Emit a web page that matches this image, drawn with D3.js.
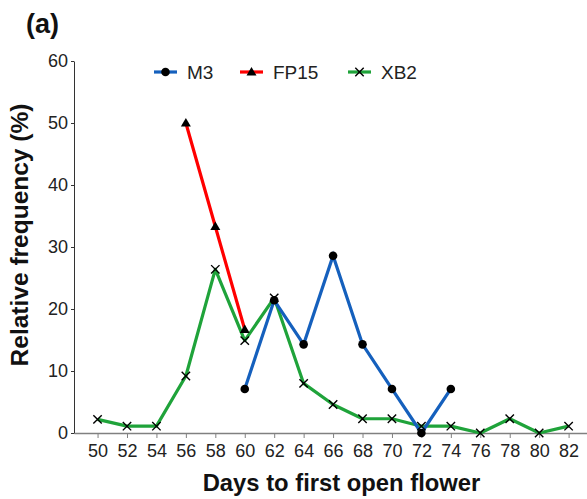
<!DOCTYPE html>
<html><head><meta charset="utf-8">
<script src="https://cdn.jsdelivr.net/npm/d3@7"></script>
<style>body{margin:0;background:#fff;} text{font-family:"Liberation Sans",Arial,sans-serif;}</style>
</head><body>
<svg id="c" width="587" height="499"></svg>
<script>
const xTicks = [50,52,54,56,58,60,62,64,66,68,70,72,74,76,78,80,82];
const yTicks = [0,10,20,30,40,50,60];
const m3Days = [60,62,64,66,68,70,72,74];
const m3Vals = [7.1,21.4,14.3,28.6,14.3,7.1,0,7.1];
const fpDays = [56,58,60];
const fpVals = [50,33.3,16.7];
const xbDays = [50,52,54,56,58,60,62,64,66,68,70,72,74,76,78,80,82];
const xbVals = [2.2,1.1,1.1,9.2,26.4,14.9,21.8,8.0,4.6,2.3,2.3,1.1,1.1,0,2.3,0,1.1];
const seriesNames = ["M3","FP15","XB2"];
const colors = {M3:"#1560bd", FP15:"#ff0000", XB2:"#1fa33a"};

const svg = d3.select("#c");
const x = d3.scaleLinear().domain([48.4,83.25]).range([74,587]);
const y = d3.scaleLinear().domain([0,60]).range([433,61]);

// x axis
const gx = svg.append("g").attr("transform","translate(0,433)");
gx.call(d3.axisBottom(x).tickValues(xTicks).tickSize(5).tickSizeOuter(0).tickPadding(6));
gx.select(".domain").attr("stroke","#808080").attr("stroke-width",1.5);
gx.selectAll(".tick line").attr("stroke","#808080");
gx.selectAll(".tick text").attr("font-size",18).attr("fill","#222").attr("font-family","Liberation Sans, Arial, sans-serif");

// y axis
const gy = svg.append("g").attr("transform","translate(74,0)");
gy.call(d3.axisLeft(y).tickValues(yTicks).tickSize(3).tickSizeOuter(0).tickPadding(3));
gy.select(".domain").attr("stroke","#333").attr("stroke-width",1);
gy.selectAll(".tick line").attr("stroke","#333");
gy.selectAll(".tick text").attr("font-size",18).attr("fill","#222").attr("font-family","Liberation Sans, Arial, sans-serif");

const line = d3.line().x(d=>x(d[0])).y(d=>y(d[1]));
const xb = xbDays.map((d,i)=>[d,xbVals[i]]);
const fp = fpDays.map((d,i)=>[d,fpVals[i]]);
const m3 = m3Days.map((d,i)=>[d,m3Vals[i]]);

svg.append("path").datum(xb).attr("d",line).attr("fill","none").attr("stroke",colors.XB2).attr("stroke-width",3.2).attr("stroke-linejoin","round");
svg.append("path").datum(fp).attr("d",line).attr("fill","none").attr("stroke",colors.FP15).attr("stroke-width",3.2);
svg.append("path").datum(m3).attr("d",line).attr("fill","none").attr("stroke",colors.M3).attr("stroke-width",3.2);

function cross(g,cx,cy,s){
  g.append("path").attr("d",`M${cx-s},${cy-s}L${cx+s},${cy+s}M${cx-s},${cy+s}L${cx+s},${cy-s}`).attr("stroke","#000").attr("stroke-width",1.4);
}
function tri(g,cx,cy,s){
  g.append("path").attr("d",`M${cx},${cy-s}L${cx+s},${cy+s*0.7}L${cx-s},${cy+s*0.7}Z`).attr("fill","#000");
}
const mk = svg.append("g");
xb.forEach(d=>cross(mk,x(d[0]),y(d[1]),4.2));
fp.forEach(d=>tri(mk,x(d[0]),y(d[1]),5));
m3.forEach(d=>mk.append("circle").attr("cx",x(d[0])).attr("cy",y(d[1])).attr("r",4.3).attr("fill","#000"));

// legend
const lg = svg.append("g");
const legX = [154,240,348];
seriesNames.forEach((n,i)=>{
  const lx = legX[i], ly = 72;
  lg.append("line").attr("x1",lx).attr("x2",lx+23).attr("y1",ly).attr("y2",ly).attr("stroke",colors[n]).attr("stroke-width",3.2);
  const cx = lx+11.5;
  if(n==="M3") lg.append("circle").attr("cx",cx).attr("cy",ly).attr("r",4.3).attr("fill","#000");
  if(n==="FP15") tri(lg,cx,ly,5);
  if(n==="XB2") cross(lg,cx,ly,4.2);
  lg.append("text").attr("x",lx+33).attr("y",ly+7).attr("font-size",19).attr("fill","#222").text(n);
});

// titles
svg.append("text").attr("x",26).attr("y",33).attr("font-size",27).attr("font-weight","bold").attr("fill","#111").text("(a)");
svg.append("text").attr("transform","translate(28,235) rotate(-90)").attr("text-anchor","middle").attr("font-size",24.5).attr("font-weight","bold").attr("fill","#111").text("Relative frequency (%)");
svg.append("text").attr("x",341.5).attr("y",491).attr("text-anchor","middle").attr("font-size",23.8).attr("font-weight","bold").attr("fill","#111").text("Days to first open flower");
</script>
</body></html>
